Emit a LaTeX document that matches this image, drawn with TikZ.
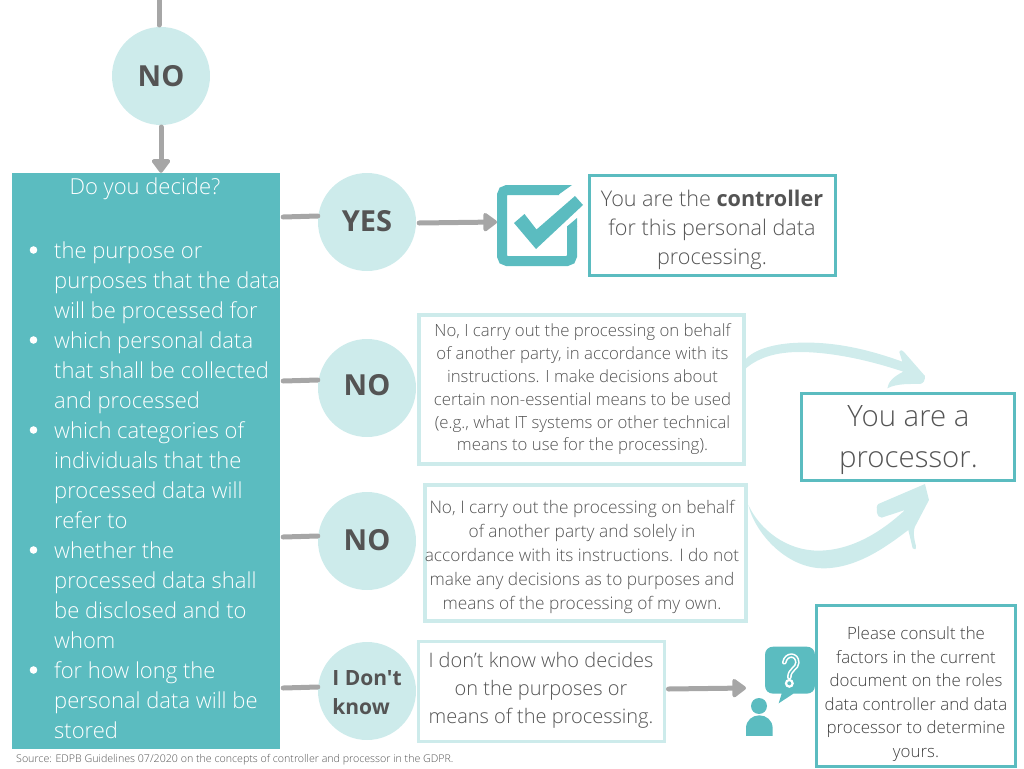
\documentclass[tikz,border=0pt]{standalone}
\usepackage{fontspec}
\setmainfont{Open Sans Light}[BoldFont={Open Sans Bold},Ligatures=TeXOff]
\usetikzlibrary{arrows.meta}
\definecolor{teal}{HTML}{5BBCC0}
\definecolor{pale}{HTML}{CDEBEB}
\definecolor{ink}{HTML}{545454}
\definecolor{conn}{HTML}{A6A6A6}
\tikzset{
  x=1pt,y=-1pt,
  disc/.style={circle,fill=pale,minimum size=98pt,inner sep=0pt,text=ink,font=\fontsize{29}{29}\selectfont\bfseries,align=center},
  textbox/.style={draw=#1,rectangle,inner sep=0pt,align=center,text=ink},
  link/.style={draw=conn,line width=5pt,line cap=round},
  linkarrow/.style={link,-{Triangle[length=15pt,width=21pt,round]}},
}
\begin{document}
\begin{tikzpicture}
\useasboundingbox (0,0) rectangle (1024,768);
% nodes
\node[disc] (n1) at (161,76) {\raisebox{-3pt}{NO}};
\node[rectangle,fill=teal,minimum width=268pt,minimum height=576pt,inner sep=0pt] (side) at (146,461) {};
\node[text=white,font=\fontsize{22}{22}\selectfont] (ask) at (145,189) {Do you decide?};
\node[anchor=north west,text=white,inner sep=0pt,align=left,font=\fontsize{22}{30}\selectfont] (list) at (54,242) {%
the purpose or\\
purposes that the data\\
will be processed for\\
which personal data\\
that shall be collected\\
and processed\\
which categories of\\
individuals that the\\
processed data will\\
refer to\\
whether the\\
processed data shall\\
be disclosed and to\\
whom\\
for how long the\\
personal data will be\\
stored};
\foreach \yy in {250,340,430,550,670} \fill[white] (33.5,\yy) circle[radius=3.8];
\node[disc] (yes) at (367,222) {\raisebox{2pt}{YES}};
\node[disc] (no2) at (367,388) {\raisebox{6pt}{NO}};
\node[disc] (no3) at (367,541) {\raisebox{2pt}{NO}};
\node[disc] (idk) at (367,691) {};
\node[inner sep=0pt,text=ink,align=left,font=\fontsize{21}{29}\selectfont\bfseries] (idkt) at (367,693) {I Don't\\know};
\node[textbox=teal,line width=3pt,minimum width=246pt,minimum height=100pt] (ctrl) at (712,225) {};
\node[text=ink,align=center,inner sep=0pt,font=\fontsize{21.6}{29}\selectfont] (ctrlt) at (712,230) {You are the \textbf{controller}\\for this personal data\\processing.};
\node[textbox=pale,line width=4pt,minimum width=325pt,minimum height=149pt] (b2) at (581,389) {};
\node[text=ink,align=center,inner sep=0pt,font=\fontsize{16.8}{22.8}\selectfont] (b2t) at (582.5,389.5) {No, I carry out the processing on behalf\\of another party, in accordance with its\\instructions. I make decisions about\\certain non-essential means to be used\\(e.g., what IT systems or other technical\\means to use for the processing).};
\node[textbox=pale,line width=4pt,minimum width=321pt,minimum height=136pt] (b3) at (585,553) {};
\node[text=ink,align=center,inner sep=0pt,font=\fontsize{17.3}{24}\selectfont] (b3t) at (582,557) {No, I carry out the processing on behalf\\of another party and solely in\\accordance with its instructions. I do not\\make any decisions as to purposes and\\means of the processing of my own.};
\node[textbox=pale,line width=3pt,minimum width=246pt,minimum height=100pt] (b4) at (541,691) {};
\node[text=ink,align=center,inner sep=0pt,font=\fontsize{20}{28}\selectfont] (b4t) at (541,690) {I don’t know who decides\\on the purposes or\\means of the processing.};
\node[textbox=teal,line width=3pt,minimum width=213pt,minimum height=87pt] (proc) at (908,436.5) {};
\node[text=ink,align=center,inner sep=0pt,font=\fontsize{29.4}{41}\selectfont] (proct) at (908.5,440) {You are a\\processor.};
\node[textbox=teal,line width=3pt,minimum width=199pt,minimum height=161pt] (cons) at (915.5,685.5) {};
\node[text=black!75,align=center,inner sep=0pt,font=\fontsize{16.9}{23.6}\selectfont] (const) at (916,694) {Please consult the\\factors in the current\\document on the roles\\data controller and data\\processor to determine\\yours.};
\node[anchor=west,inner sep=0pt,text=ink,font=\fontsize{10.65}{10.65}\selectfont] (src) at (16,760) {Source: EDPB Guidelines 07/2020 on the concepts of controller and processor in the GDPR.};
% check box icon
\coordinate (chk) at (497,222);
\draw[teal,line width=10pt,rounded corners=5pt] (559,190) -- (502,190) -- (502,261) -- (572,261) -- (572,226);
\fill[teal] (558.5,185) -- (572,185) -- (558,195) -- cycle;
\fill[teal] (567,226.5) -- (577,218) -- (577,226.5) -- cycle;
\fill[teal] (514,223) -- (524.5,214) -- (536.5,229.5) -- (575,196) -- (583,205) -- (536,249) -- cycle;
% person icon
\coordinate (person) at (746,688);
\begin{scope}[shift={(660,600)},x=.3333pt,y=-.3333pt]
\fill[teal] (315,165) .. controls (315,150) and (325,140) .. (340,140) -- (440,140) .. controls (455,140) and (465,150) .. (465,165) -- (465,256) .. controls (465,271) and (455,281) .. (440,281) -- (400,281) -- (356,310) -- (365,281) -- (340,281) .. controls (325,281) and (315,271) .. (315,256) -- cycle;
\fill[teal] (297,318) circle[radius=24];
\fill[teal] (258,408) -- (258,385) .. controls (258,360) and (278,346) .. (298,346) .. controls (318,346) and (338,360) .. (338,385) -- (338,408) -- cycle;
\path[draw=white,line width=4.6pt,line cap=round] (373,187) .. controls (378,160) and (412,160) .. (412,188) .. controls (412,205) and (388,208) .. (388,232);
\path[draw=teal,line width=1.4pt,line cap=round] (373,187) .. controls (378,160) and (412,160) .. (412,188) .. controls (412,205) and (388,208) .. (388,232);
\draw[white,line width=2.2pt] (388,250) circle[radius=10];
\end{scope}
% swooshes
\begin{scope}[shift={(730,330)},x=.3333pt,y=-.3333pt]
\fill[pale,opacity=.95] (38,100) .. controls (60,60) and (130,40) .. (210,38) .. controls (320,35) and (420,60) .. (517,95) -- (508,66) .. controls (512,58) and (518,60) .. (522,66) -- (585,138) .. controls (585,150) and (582,160) .. (570,162) .. controls (540,162) and (500,160) .. (472,175) .. controls (475,155) and (490,140) .. (520,125) .. controls (400,85) and (290,65) .. (200,66) .. controls (130,68) and (80,85) .. (42,120) -- cycle;
\fill[pale] (55,525) .. controls (75,610) and (170,715) .. (280,715) .. controls (380,715) and (470,650) .. (535,600) -- (548,655) .. controls (552,660) and (560,660) .. (558,648) .. controls (550,620) and (550,600) .. (555,590) -- (597,510) -- (585,462) -- (445,522) .. controls (435,530) and (440,565) .. (455,563) -- (525,540) .. controls (450,610) and (360,662) .. (265,662) .. controls (170,662) and (90,600) .. (55,525) -- cycle;
\end{scope}
% connectors
\coordinate (top) at (159,0);
\draw[link] (top) -- (159,25);
\draw[linkarrow] (n1.south |- 0,127) -- (n1.south |- side.north);
\draw[link] (side.east |- 0,217) ++(3,0) -- (yes.west |- 0,216);
\draw[linkarrow] (yes.east |- 0,223) ++(3,0) -- (chk);
\draw[link] (side.east |- 0,381) ++(3,0) -- (no2.west |- 0,380);
\draw[link] (side.east |- 0,537) ++(3,0) -- (no3.west |- 0,536);
\draw[link] (side.east |- 0,688) ++(3,0) -- (idk.west |- 0,687);
\draw[linkarrow] (b4.east |- 0,689) ++(3,0) -- (person);
\end{tikzpicture}
\end{document}
